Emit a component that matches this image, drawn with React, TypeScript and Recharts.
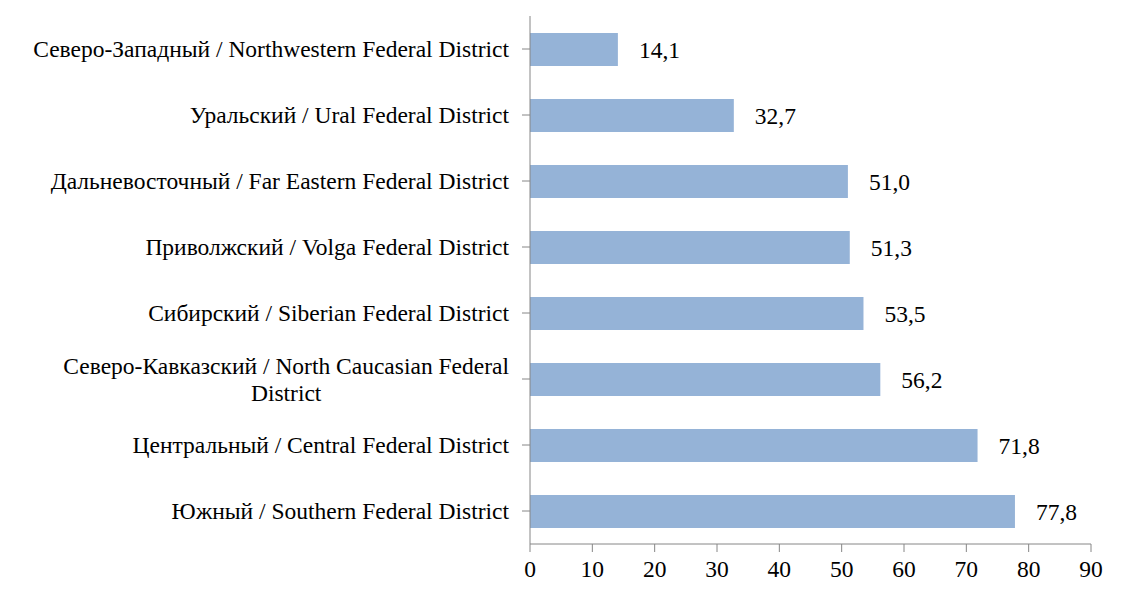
import { BarChart, Bar, XAxis, YAxis, LabelList } from 'recharts';

const districts = [
  'Северо-Западный / Northwestern Federal District',
  'Уральский / Ural Federal District',
  'Дальневосточный / Far Eastern Federal District',
  'Приволжский / Volga Federal District',
  'Сибирский / Siberian Federal District',
  'Северо-Кавказский / North Caucasian Federal District',
  'Центральный / Central Federal District',
  'Южный / Southern Federal District',
];
const values = [14.1, 32.7, 51.0, 51.3, 53.5, 56.2, 71.8, 77.8];
const xTicks = [0, 10, 20, 30, 40, 50, 60, 70, 80, 90];

const FONT = '"Liberation Serif", "Times New Roman", serif';
const FONT_SIZE = 23.5;
const AXIS = '#868686';

const data = districts.map((name, i) => ({ name, value: values[i] }));

let ctx: CanvasRenderingContext2D | null = null;
function measure(s: string) {
  if (!ctx) ctx = document.createElement('canvas').getContext('2d');
  if (!ctx) return s.length * FONT_SIZE * 0.45;
  ctx.font = `${FONT_SIZE}px "Liberation Serif"`;
  return ctx.measureText(s).width;
}

// greedy word wrap, the long North Caucasian label goes on two lines
function wrap(s: string, maxChars = 48) {
  const words = s.split(' ');
  const lines: string[] = [];
  let cur = '';
  for (const w of words) {
    const next = cur ? cur + ' ' + w : w;
    if (next.length > maxChars && cur) {
      lines.push(cur);
      cur = w;
    } else cur = next;
  }
  if (cur) lines.push(cur);
  return lines;
}

const CategoryTick = (props: any) => {
  const { x, y, payload } = props;
  const lines = wrap(payload.value);
  const right = x - 11;
  if (lines.length === 1) {
    return (
      <text x={right} y={y} dy="0.35em" textAnchor="end" fontFamily={FONT} fontSize={FONT_SIZE} fill="#000">
        {lines[0]}
      </text>
    );
  }
  const w = Math.max(...lines.map(measure));
  const cx = right - w / 2;
  const lh = 27;
  const top = y - ((lines.length - 1) * lh) / 2;
  return (
    <text textAnchor="middle" fontFamily={FONT} fontSize={FONT_SIZE} fill="#000">
      {lines.map((l, i) => (
        <tspan key={i} x={cx} y={top + i * lh} dy="0.35em">
          {l}
        </tspan>
      ))}
    </text>
  );
};

const fmt = (v: any) => Number(v).toFixed(1).replace('.', ',');

export default function App() {
  return (
    <BarChart
      width={1134}
      height={588}
      data={data}
      layout="vertical"
      margin={{ top: 8, right: 51, left: 0, bottom: 16 }}
      style={{ fontFamily: FONT }}
    >
      <XAxis
        type="number"
        domain={[0, 90]}
        ticks={xTicks}
        interval={0}
        height={36}
        stroke={AXIS}
        tickSize={8}
        tickMargin={8}
        tick={{ fill: '#000', fontSize: FONT_SIZE, fontFamily: FONT }}
      />
      <YAxis
        type="category"
        dataKey="name"
        width={522}
        stroke={AXIS}
        tickSize={8}
        interval={0}
        tick={<CategoryTick />}
      />
      <Bar dataKey="value" fill="#95B3D7" barSize={33} isAnimationActive={false}>
        <LabelList
          dataKey="value"
          position="right"
          offset={21}
          formatter={fmt}
          style={{ fill: '#000', fontSize: FONT_SIZE, fontFamily: FONT }}
        />
      </Bar>
    </BarChart>
  );
}
